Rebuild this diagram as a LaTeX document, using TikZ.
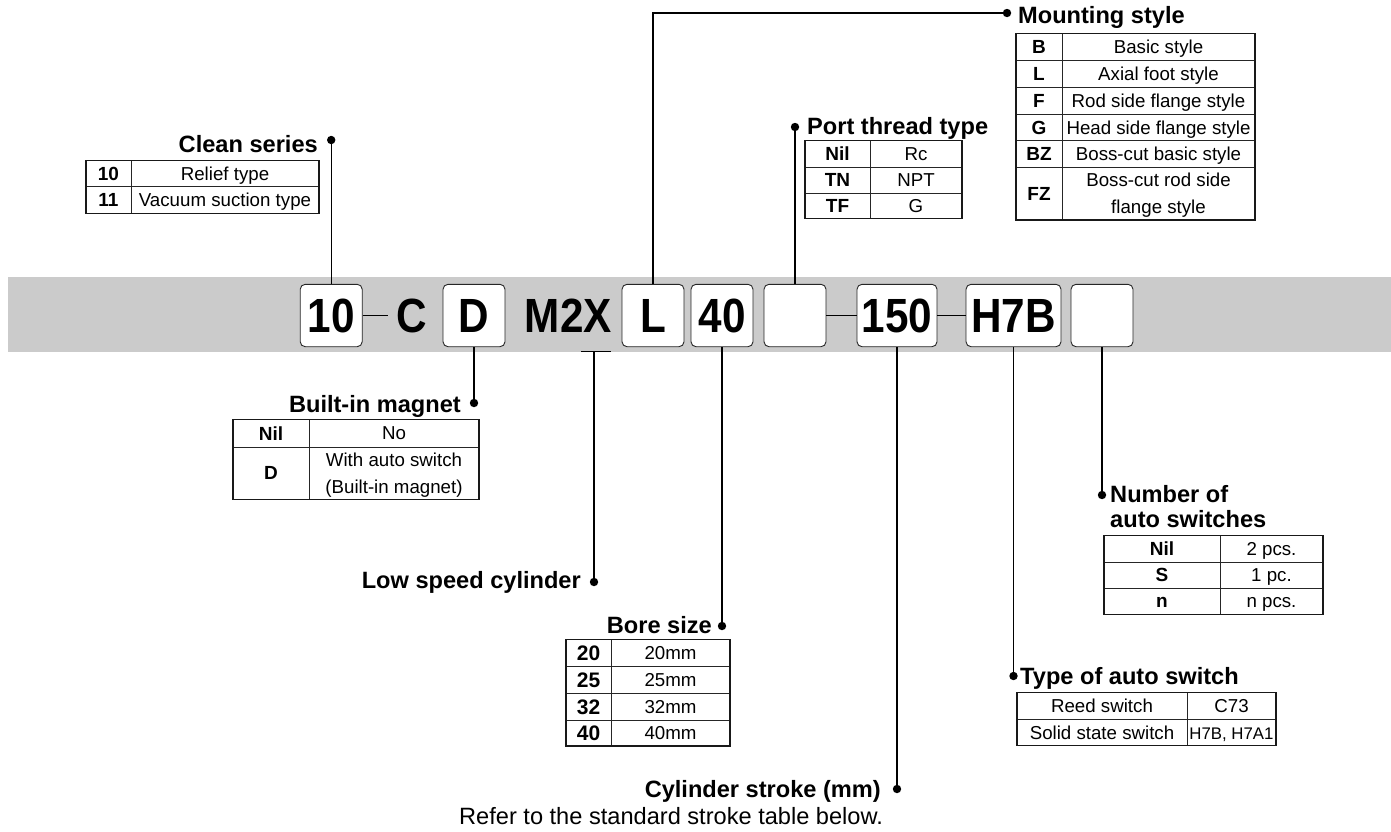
\documentclass[tikz,border=0pt]{standalone}
\usepackage{fontspec}
\setmainfont{Liberation Sans}
\definecolor{bandgray}{HTML}{CBCBCB}
\newcommand{\lblfont}{\fontsize{23.6}{26}\selectfont\bfseries}
\newcommand{\txtfont}{\fontsize{23.6}{26}\selectfont}
\newcommand{\tabfont}{\fontsize{18.7}{21}\selectfont}
\newcommand{\keyfont}{\fontsize{19}{21}\selectfont\bfseries}
\newcommand{\codetxt}[1]{\fontsize{48}{50}\selectfont\bfseries\scalebox{0.88}[1]{#1}}
\begin{document}
\begin{tikzpicture}[x=1pt,y=-1pt,
  conn/.style={line width=1.3pt, black},
  tframe/.style={line width=1.2pt, black!90},
  tline/.style={line width=0.8pt, black!85},
  codebox/.style={draw=black!85, line width=0.9pt, fill=white, rounded corners=5pt,
                  minimum width=62pt, minimum height=62.4pt, inner sep=0pt},
  lbl/.style={inner sep=0pt, font=\lblfont},
  cell/.style={inner sep=0pt, anchor=base, font=\tabfont},
  key/.style={inner sep=0pt, anchor=base, font=\keyfont},
  dotm/.style={fill=black}
]
\useasboundingbox (0,0) rectangle (1391,831);
% band
\fill[bandgray] (8,277.3) rectangle (1391,351.7);

% code boxes
\node[codebox] (b10) at (331.2,315.5) {\codetxt{10}};
\node[inner sep=0pt, anchor=base] (cC) at (411.5,332.2) {\codetxt{C}};
\node[codebox] (bD) at (474,315.5) {\codetxt{D}};
\node[inner sep=0pt, anchor=base east] (cM) at (612,332.2) {\codetxt{M2X}};
\node[codebox] (bL) at (653,315.5) {\codetxt{L}};
\node[codebox] (b40) at (722,315.5) {\codetxt{40}};
\node[codebox] (e1) at (795,315.5) {};
\node[codebox, minimum width=80pt] (b150) at (897,315.5) {\codetxt{150}};
\node[codebox, minimum width=95pt] (bH) at (1013.5,315.5) {\codetxt{H7B}};
\node[codebox] (e2) at (1102,315.5) {};

% hyphens
\draw[conn] (b10.east) -- ++(25pt,0pt);
\draw[conn] (e1.east) -- (b150.west);
\draw[conn] (b150.east) -- (bH.west);
% underline under X
\coordinate (xu1) at (581,351.5);
\coordinate (xu2) at (611,351.5);
\coordinate (xum) at (594,351.5);
\draw[line width=1.1pt] (xu1) -- (xu2);

% dots
\coordinate (dClean) at (331.2,140);
\coordinate (dPort) at (795,127);
\coordinate (dMount) at (1007,13);
\coordinate (dMag) at (474,403);
\coordinate (dLow) at (594,582);
\coordinate (dBore) at (722,626);
\coordinate (dStroke) at (897,789);
\coordinate (dType) at (1013.5,676);
\coordinate (dNum) at (1102,495);

% connectors
\draw[conn] (b10.north) -- (dClean);
\draw[conn] (e1.north) -- (dPort);
\draw[conn] (bL.north) |- (dMount);
\draw[conn] (bD.south) -- (dMag);
\draw[conn] (xum) -- (dLow);
\draw[conn] (b40.south) -- (dBore);
\draw[conn] (b150.south) -- (dStroke);
\draw[conn] (bH.south) -- (dType);
\draw[conn] (e2.south) -- (dNum);
\foreach \d in {dClean,dPort,dMount,dMag,dLow,dBore,dStroke,dType,dNum}
  \fill[dotm] (\d) circle (4.2pt);

% ---------- Clean series
\node[lbl, anchor=base east] (lClean) at (318,152) {Clean series};
\draw[tline] (131,160.7) -- (131,213.3);
\draw[tline] (86,186.7) -- (319,186.7);
\draw[tframe] (86,160.7) rectangle (319,213.3);
\node[key] (kC1) at (108.5,180.3) {10};
\node[key] (kC2) at (108.5,206.6) {11};
\node[cell] (vC1) at (225,180.3) {Relief type};
\node[cell] (vC2) at (225,206.6) {Vacuum suction type};

% ---------- Port thread type
\node[lbl, anchor=base west] (lPort) at (807,134) {Port thread type};
\draw[tline] (870,140.7) -- (870,218.3);
\draw[tline] (805,167.3) -- (962,167.3);
\draw[tline] (805,193.3) -- (962,193.3);
\draw[tframe] (805,140.7) rectangle (962,218.3);
\node[key] (kP1) at (837.5,160.6) {Nil};
\node[key] (kP2) at (837.5,186.9) {TN};
\node[key] (kP3) at (837.5,212.4) {TF};
\node[cell] (vP1) at (916,160.6) {Rc};
\node[cell] (vP2) at (916,186.9) {NPT};
\node[cell] (vP3) at (916,212.4) {G};

% ---------- Mounting style
\node[lbl, anchor=base west] (lMount) at (1018,23.5) {Mounting style};
\draw[tline] (1062,33.3) -- (1062,220);
\foreach \yy in {60,87.3,114,140.7,167.3}
  \draw[tline] (1016,\yy) -- (1255,\yy);
\draw[tframe] (1016,33.3) rectangle (1255,220);
\node[key] (kM1) at (1039,53.3) {B};
\node[key] (kM2) at (1039,80.3) {L};
\node[key] (kM3) at (1039,107.3) {F};
\node[key] (kM4) at (1039,134) {G};
\node[key] (kM5) at (1039,160.6) {BZ};
\node[key] (kM6) at (1039,200.3) {FZ};
\node[cell] (vM1) at (1158.5,53.3) {Basic style};
\node[cell] (vM2) at (1158.5,80.3) {Axial foot style};
\node[cell] (vM3) at (1158.5,107.3) {Rod side flange style};
\node[cell] (vM4) at (1158.5,134) {Head side flange style};
\node[cell] (vM5) at (1158.5,160.6) {Boss-cut basic style};
\node[cell] (vM6) at (1158.5,186.6) {Boss-cut rod side};
\node[cell] (vM7) at (1158.5,213.3) {flange style};

% ---------- Built-in magnet
\node[lbl, anchor=base east] (lMag) at (461,412) {Built-in magnet};
\draw[tline] (309,419.3) -- (309,499.3);
\draw[tline] (233,447.3) -- (479,447.3);
\draw[tframe] (233,419.3) rectangle (479,499.3);
\node[key] (kB1) at (271,440) {Nil};
\node[key] (kB2) at (271,479.9) {D};
\node[cell] (vB1) at (394,439.3) {No};
\node[cell] (vB2) at (394,466.6) {With auto switch};
\node[cell] (vB3) at (394,493.3) {(Built-in magnet)};

% ---------- Low speed cylinder
\node[lbl, anchor=base east] (lLow) at (581,588) {Low speed cylinder};

% ---------- Bore size
\node[lbl, anchor=base east] (lBore) at (712,633) {Bore size};
\draw[tline] (611,639.3) -- (611,746);
\foreach \yy in {666.7,693.3,720}
  \draw[tline] (566,\yy) -- (730,\yy);
\draw[tframe] (566,639.3) rectangle (730,746);
\node[key, font=\fontsize{21}{23}\selectfont\bfseries] (kS1) at (588.5,660.5) {20};
\node[key, font=\fontsize{21}{23}\selectfont\bfseries] (kS2) at (588.5,687.5) {25};
\node[key, font=\fontsize{21}{23}\selectfont\bfseries] (kS3) at (588.5,714.2) {32};
\node[key, font=\fontsize{21}{23}\selectfont\bfseries] (kS4) at (588.5,740.5) {40};
\node[cell] (vS1) at (670.5,659.6) {20mm};
\node[cell] (vS2) at (670.5,686.6) {25mm};
\node[cell] (vS3) at (670.5,713.3) {32mm};
\node[cell] (vS4) at (670.5,739.6) {40mm};

% ---------- Number of auto switches
\node[lbl, anchor=base west] (lNum1) at (1110,502) {Number of};
\node[lbl, anchor=base west] (lNum2) at (1110,527) {auto switches};
\draw[tline] (1220,535.7) -- (1220,614.3);
\draw[tline] (1104,562.3) -- (1323,562.3);
\draw[tline] (1104,588.3) -- (1323,588.3);
\draw[tframe] (1104,535.7) rectangle (1323,614.3);
\node[key] (kN1) at (1162,555.6) {Nil};
\node[key] (kN2) at (1162,581.9) {S};
\node[key] (kN3) at (1162,607.9) {n};
\node[cell] (vN1) at (1271.5,555.6) {2 pcs.};
\node[cell] (vN2) at (1271.5,581.9) {1 pc.};
\node[cell] (vN3) at (1271.5,607.9) {n pcs.};

% ---------- Type of auto switch
\node[lbl, anchor=base west] (lType) at (1020,684) {Type of auto switch};
\draw[tline] (1187,692.7) -- (1187,745.7);
\draw[tline] (1017,719.3) -- (1276,719.3);
\draw[tframe] (1017,692.7) rectangle (1276,745.7);
\node[cell] (vT1) at (1102,712.6) {Reed switch};
\node[cell] (vT2) at (1231.5,712.6) {C73};
\node[cell] (vT3) at (1102,739.1) {Solid state switch};
\node[cell, font=\fontsize{16.8}{20}\selectfont] (vT4) at (1231.5,739.1) {H7B, H7A1};

% ---------- Cylinder stroke
\node[lbl, anchor=base east] (lStroke) at (881,797) {Cylinder stroke (mm)};
\node[inner sep=0pt, anchor=base west, font=\txtfont] (lRefer) at (459,824) {Refer to the standard stroke table below.};
\end{tikzpicture}
\end{document}
